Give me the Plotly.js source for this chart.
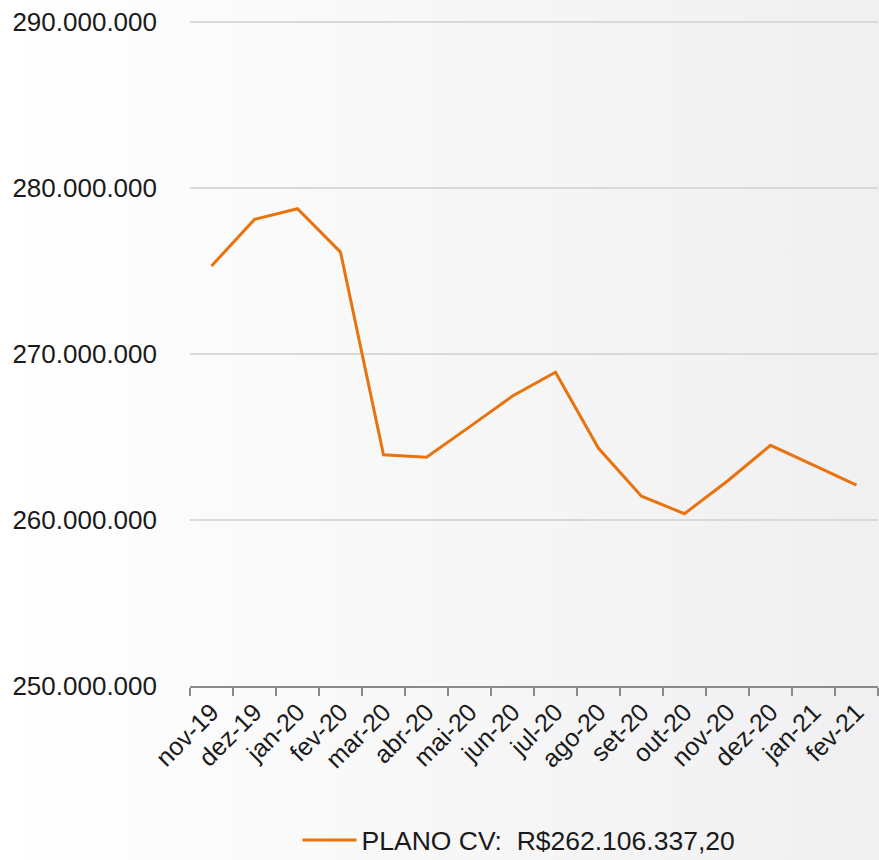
<!DOCTYPE html>
<html>
<head>
<meta charset="utf-8">
<script src="https://cdn.plot.ly/plotly-3.0.1.min.js"></script>
<style>
  html, body { margin: 0; padding: 0; }
  body { background: linear-gradient(to right, #ffffff 0%, #f7f7f8 50%, #f0f0f2 100%); }
  #chart { width: 879px; height: 860px; }
</style>
</head>
<body>
<div id="chart"></div>
<script>
const months = ["nov-19","dez-19","jan-20","fev-20","mar-20","abr-20","mai-20","jun-20",
                "jul-20","ago-20","set-20","out-20","nov-20","dez-20","jan-21","fev-21"];
const planoCV = [275300000, 278110000, 278750000, 276140000, 263930000, 263780000, 265610000, 267470000,
                 268900000, 264320000, 261430000, 260380000, 262350000, 264500000, 263310000, 262106337.20];
const seriesName = "PLANO CV:\u00a0\u00a0R$262.106.337,20";
const yTicks = [250000000, 260000000, 270000000, 280000000, 290000000];
const yTickText = ["250.000.000", "260.000.000", "270.000.000", "280.000.000", "290.000.000"];

const trace = {
  x: months,
  y: planoCV,
  type: "scatter",
  mode: "lines",
  name: seriesName,
  line: { color: "#E8730F", width: 3 },
  hoverinfo: "x+y"
};

const layout = {
  width: 879,
  height: 860,
  margin: { l: 190, r: 1, t: 20, b: 174 },
  paper_bgcolor: "rgba(0,0,0,0)",
  plot_bgcolor: "rgba(0,0,0,0)",
  font: { family: "Liberation Sans, Arial, sans-serif", color: "#1a1a1a", size: 26 },
  showlegend: true,
  legend: {
    orientation: "h",
    xref: "container", yref: "container",
    x: 0.3385, xanchor: "left",
    y: 0.023, yanchor: "middle",
    itemwidth: 54,
    font: { size: 26.5, color: "#1a1a1a" },
    bgcolor: "rgba(0,0,0,0)"
  },
  xaxis: {
    type: "category",
    tickangle: -45,
    tickson: "boundaries",
    ticks: "outside",
    ticklen: 8,
    tickwidth: 1.5,
    tickcolor: "#8a8a8a",
    showline: true,
    linecolor: "#8a8a8a",
    linewidth: 1.5,
    showgrid: false,
    zeroline: false,
    tickfont: { size: 25, color: "#1a1a1a" },
    range: [-0.5, 15.5]
  },
  yaxis: {
    range: [250000000, 290120500],
    tickvals: yTicks,
    ticktext: yTickText,
    showgrid: true,
    gridcolor: "#d9d9d9",
    gridwidth: 2,
    zeroline: false,
    showline: false,
    ticks: "",
    ticklabelstandoff: 32,
    tickfont: { size: 26, color: "#1a1a1a" }
  }
};

Plotly.newPlot("chart", [trace], layout, { displayModeBar: false, staticPlot: true });
</script>
</body>
</html>
